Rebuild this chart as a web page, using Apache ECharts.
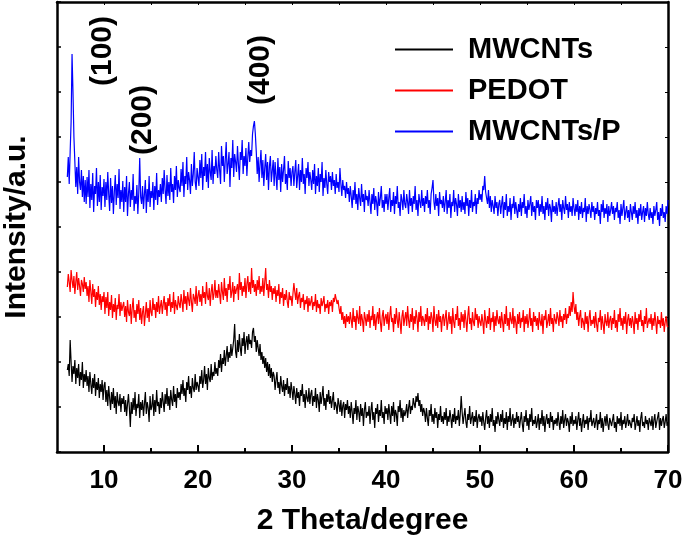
<!DOCTYPE html>
<html>
<head>
<meta charset="utf-8">
<script src="https://cdn.jsdelivr.net/npm/echarts@6/dist/echarts.min.js"></script>
<style>
html,body{margin:0;padding:0;background:#fff;}
#c{width:685px;height:544px;}
</style>
</head>
<body>
<div id="c"></div>
<script>
// 2-theta grid: 6.1 .. 70.0 degrees, 0.1 degree step (640 points per pattern)
var thetaStart = 6.1, thetaStep = 0.1;
var xTicks = [10, 20, 30, 40, 50, 60, 70];
var xMinorTicks = [15, 25, 35, 45, 55, 65];
var seriesNames = ['MWCNTs', 'PEDOT', 'MWCNTs/P'];
var annotations = [
  {text: '(100)', x: 9.9, y: 401},
  {text: '(200)', x: 14.15, y: 332},
  {text: '(400)', x: 26.7, y: 382}
];

var blue = [
275,295,268,300,330,398,360,315,290,265,285,258,295,270,262,282,255,276,250,272,
248,275,255,282,244,268,252,279,240,266,258,284,246,270,250,277,242,265,256,273,
245,270,252,280,258,241,274,249,266,238,260,277,247,268,254,283,243,262,250,271,
240,265,250,276,236,258,270,245,262,252,278,241,256,248,267,238,259,294,255,248,
266,243,258,272,239,263,250,276,245,261,254,270,242,266,252,279,247,262,255,268,
250,274,258,282,262,248,277,256,270,252,284,260,268,249,276,262,286,255,272,264,
260,283,266,290,255,276,268,295,262,280,272,258,288,266,278,300,270,262,284,275,
266,292,274,298,262,285,276,300,270,288,264,294,280,272,302,268,286,278,296,282,
274,300,282,268,306,286,296,270,292,310,278,288,300,265,294,284,312,275,298,290,
280,306,288,272,300,292,312,278,296,286,304,276,295,310,290,302,296,318,326,331,
318,300,278,295,270,288,302,274,292,266,284,298,272,290,262,286,296,270,281,292,
266,290,276,262,294,272,285,260,288,270,282,296,268,278,262,291,274,284,266,280,
286,266,280,292,264,276,288,262,282,270,294,268,278,258,284,274,290,266,280,272,
262,282,268,288,258,276,266,284,260,278,270,290,256,274,264,282,268,258,280,270,
276,262,280,266,272,258,278,264,270,260,284,268,256,272,262,266,254,270,258,264,
250,266,256,244,262,252,270,248,258,242,264,254,246,268,250,258,240,262,252,256,
246,262,250,238,258,248,264,242,256,250,236,260,246,254,266,244,252,240,258,248,
258,242,254,264,240,252,246,260,238,256,248,266,244,250,236,258,252,242,262,248,
244,258,250,238,262,246,254,240,256,248,266,242,252,236,258,250,244,262,246,254,
240,256,248,262,244,252,238,258,264,272,250,242,258,246,254,236,260,248,252,244,
256,240,250,262,238,252,244,258,234,250,246,262,240,254,248,236,258,244,252,240,
256,242,250,238,260,246,254,236,252,244,262,240,250,246,258,238,254,248,262,252,
258,250,266,262,276,260,254,248,262,244,256,240,252,246,238,256,244,250,236,248,
252,238,248,256,234,250,242,258,236,246,240,254,232,248,244,256,238,250,242,234,
248,240,254,236,250,244,258,238,246,234,252,242,248,256,236,250,240,246,232,252,
244,252,236,248,240,256,238,246,232,250,242,254,236,248,244,230,252,240,246,238,
250,236,246,254,240,248,232,252,244,238,256,242,248,234,250,240,246,236,254,244,
236,248,240,252,232,246,238,250,234,244,240,254,230,246,238,248,242,234,250,240,
246,232,244,238,250,236,242,228,248,240,252,234,244,238,248,230,246,236,242,250,
238,246,232,244,240,250,234,242,228,248,236,244,252,232,240,246,234,242,230,248,
240,232,246,238,250,234,242,228,244,236,248,232,240,246,230,244,236,250,238,232,
244,234,240,228,246,236,242,250,232,240,226,244,236,248,234,240,230,246,238,252
];

var red = [
165,178,170,160,182,172,164,176,158,170,180,162,174,166,156,172,168,160,175,163,
170,156,166,150,172,160,148,168,155,163,145,160,152,166,147,158,142,156,150,160,
138,155,144,160,136,150,142,157,134,148,140,154,132,147,143,158,136,150,141,146,
150,135,146,130,152,140,136,148,128,144,154,134,142,130,148,138,152,132,144,128,
140,146,126,138,150,134,144,130,152,140,136,154,142,148,134,150,140,156,138,146,
152,138,148,156,142,150,136,154,146,158,140,150,144,160,138,152,146,142,156,148,
144,158,150,140,162,148,156,142,160,152,146,164,150,140,158,154,148,166,146,156,
162,150,158,146,166,154,160,148,170,156,152,164,146,160,168,152,158,172,154,162,
154,168,158,148,170,160,152,174,156,164,150,168,162,176,154,160,170,150,166,158,
158,168,152,179,162,170,156,166,160,174,154,168,176,160,170,158,184,164,172,160,
168,156,172,162,176,158,166,160,174,156,170,184,162,168,154,172,160,166,152,164,
158,166,150,162,156,168,148,160,154,164,146,158,152,162,150,144,160,152,156,146,
158,169,160,152,164,148,156,160,144,154,150,158,142,152,148,156,140,154,146,150,
156,142,150,146,158,140,152,144,148,138,154,146,150,156,140,148,144,152,138,150,
146,152,140,154,150,158,156,148,152,144,138,146,132,140,128,136,124,138,130,136,
128,140,132,124,144,130,136,122,142,134,128,146,126,138,132,120,140,134,126,138,
130,142,124,136,132,146,126,138,122,134,140,128,144,130,120,136,142,126,134,138,
128,140,122,136,146,130,134,120,138,128,144,132,124,140,130,118,136,142,126,134,
140,126,146,132,124,138,130,144,122,136,128,142,134,120,140,130,146,126,136,132,
126,138,130,144,122,136,128,140,134,120,146,132,126,138,124,142,130,136,120,134,
138,126,134,142,122,130,140,128,136,118,144,130,124,138,132,146,126,134,122,140,
130,138,124,142,132,120,136,146,128,134,122,140,130,126,144,132,138,124,136,130,
126,138,130,118,142,132,124,136,128,144,122,134,130,140,120,136,126,142,132,128,
136,124,140,130,120,138,128,146,126,134,122,140,132,128,144,124,136,130,118,138,
128,140,124,134,130,142,120,136,128,138,124,132,144,126,134,120,140,130,136,126,
134,122,140,130,126,138,118,136,132,142,124,130,138,126,144,128,134,120,138,132,
128,140,134,126,142,130,136,124,138,132,144,128,138,134,146,136,150,140,160,146,
138,148,132,140,126,136,142,124,134,130,122,140,128,136,120,134,142,126,132,128,
136,124,140,128,120,134,130,142,122,136,128,118,138,130,126,140,124,132,136,122,
134,128,142,124,132,120,138,130,144,126,134,122,136,128,140,118,132,138,126,134,
124,136,130,118,140,128,134,122,138,130,142,126,132,120,136,128,144,124,130,134,
128,138,122,134,126,140,130,118,136,128,132,124,140,126,134,120,130,136,126,125
];

var black = [
82,88,76,112,90,70,86,78,92,68,84,74,88,66,80,72,90,64,78,70,
82,66,76,60,80,68,58,74,64,78,56,70,62,74,54,68,60,72,52,66,
70,50,62,46,66,54,42,60,48,64,44,56,38,60,50,46,58,40,54,48,
56,40,52,36,48,58,44,25,50,38,54,42,60,36,48,44,58,34,50,42,
52,36,48,60,38,50,44,30,56,42,46,58,36,52,40,62,46,50,38,54,
44,60,50,40,58,48,64,46,56,42,62,52,46,66,50,58,44,64,54,60,
52,68,58,72,56,64,50,70,62,76,58,66,54,74,64,60,78,62,70,66,
60,76,68,82,64,72,86,68,78,62,84,74,70,88,72,80,76,90,78,84,
76,92,84,98,80,94,88,102,86,96,106,90,100,94,108,96,104,112,128,100,
94,112,100,118,104,96,114,106,120,98,110,116,102,118,108,112,104,120,124,110,
116,100,112,104,96,108,92,100,88,96,84,94,80,90,76,88,74,84,70,80,
76,62,72,80,64,70,58,76,66,60,72,56,68,62,74,58,66,54,70,62,
52,66,58,48,64,54,60,46,62,56,68,50,58,44,62,54,50,64,48,58,
62,46,56,50,64,44,58,52,40,60,48,56,66,46,54,42,58,50,62,48,
56,44,52,60,42,50,46,38,54,48,40,52,36,46,50,34,48,42,52,38,
46,34,50,40,28,44,38,52,32,46,40,30,48,36,44,26,42,50,34,40,
36,46,28,42,50,32,40,24,44,38,48,30,42,36,52,34,40,28,46,38,
44,32,48,38,28,46,36,50,30,42,38,26,46,40,52,34,44,30,42,36,
40,48,34,44,52,38,46,42,54,48,44,56,50,59,46,52,40,48,36,44,
40,30,44,34,26,42,36,48,30,38,28,44,34,40,24,38,32,46,30,36,
28,40,32,44,26,36,30,42,34,24,38,30,44,28,36,32,42,26,38,56,
40,28,36,44,30,24,38,32,46,28,34,40,26,36,30,42,24,34,38,30,
36,26,40,30,22,34,42,28,36,24,38,30,44,26,32,20,36,28,40,32,
26,38,30,42,24,34,28,40,22,36,30,44,26,32,38,24,34,28,40,30,
36,24,32,40,28,20,36,30,42,26,34,22,38,30,44,26,32,28,36,24,
30,38,22,34,28,42,26,36,20,32,38,28,34,24,40,30,36,22,32,28,
34,26,40,30,22,36,28,42,24,32,38,26,34,30,20,36,28,40,26,32,
28,36,22,32,40,26,34,20,30,38,24,32,28,36,22,34,30,42,26,30,
34,24,30,38,22,32,28,40,24,34,20,30,36,26,38,28,22,34,30,26,
32,38,24,30,20,36,28,34,26,40,22,32,28,36,24,30,38,26,32,28,
24,34,30,38,22,28,36,26,32,20,34,40,26,30,24,36,28,32,22,34,
30,26,36,22,32,38,24,30,28,40,22,34,26,32,36,24,30,38,26,30
];

function pairs(vals) {
  return vals.map(function (v, i) {
    return [Math.round((thetaStart + i * thetaStep) * 100) / 100, v];
  });
}

var FONT = '"Liberation Sans", Arial, sans-serif';
var chart = echarts.init(document.getElementById('c'), null, {renderer: 'canvas'});

var option = {
  animation: false,
  backgroundColor: '#fff',
  grid: {left: 57, right: 17, top: 2, bottom: 92, containLabel: false, outerBoundsMode: 'none'},
  legend: {
    orient: 'vertical',
    left: 395,
    top: 35,
    padding: 0,
    itemWidth: 58,
    itemHeight: 2,
    itemGap: 12,
    icon: 'rect',
    data: seriesNames,
    textStyle: {fontFamily: FONT, fontWeight: 'bold', fontSize: 29, color: '#000', padding: [0, 0, 0, 10]}
  },
  xAxis: [
    {
      type: 'value', min: 5, max: 70, position: 'bottom',
      name: '2 Theta/degree', nameLocation: 'middle', nameGap: 54,
      nameTextStyle: {fontFamily: FONT, fontWeight: 'bold', fontSize: 30, color: '#000'},
      axisLine: {show: true, onZero: false, lineStyle: {color: '#000', width: 2.5}},
      axisTick: {show: true, inside: true, length: 7, customValues: xTicks, lineStyle: {color: '#000', width: 2}},
      axisLabel: {show: true, customValues: xTicks, margin: 16, fontFamily: FONT, fontWeight: 'bold', fontSize: 26, color: '#000'},
      splitLine: {show: false}
    },
    {
      type: 'value', min: 5, max: 70, position: 'bottom',
      axisLine: {show: false, onZero: false},
      axisTick: {show: true, inside: true, length: 4, customValues: xMinorTicks, lineStyle: {color: '#000', width: 2}},
      axisLabel: {show: false},
      splitLine: {show: false}
    },
    {
      type: 'value', min: 5, max: 70, position: 'top',
      axisLine: {show: true, onZero: false, lineStyle: {color: '#000', width: 2.5}},
      axisTick: {show: true, inside: true, length: 3, customValues: xTicks.concat(xMinorTicks), lineStyle: {color: '#000', width: 1}},
      axisLabel: {show: false},
      splitLine: {show: false}
    }
  ],
  yAxis: [
    {
      type: 'value', min: 0, max: 450, interval: 45, position: 'left',
      name: 'Intensity/a.u.', nameLocation: 'middle', nameGap: 25,
      nameTextStyle: {fontFamily: FONT, fontWeight: 'bold', fontSize: 30, color: '#000'},
      axisLine: {show: true, onZero: false, lineStyle: {color: '#000', width: 2.5}},
      axisTick: {show: true, inside: true, length: 4, lineStyle: {color: '#000', width: 1.5}},
      axisLabel: {show: false},
      splitLine: {show: false}
    },
    {
      type: 'value', min: 0, max: 450, interval: 45, position: 'right',
      axisLine: {show: true, onZero: false, lineStyle: {color: '#000', width: 2.5}},
      axisTick: {show: true, inside: true, length: 3, lineStyle: {color: '#000', width: 1}},
      axisLabel: {show: false},
      splitLine: {show: false}
    }
  ],
  series: [
    {name: seriesNames[0], type: 'line', data: pairs(black), showSymbol: false, symbol: 'none',
     lineStyle: {color: '#000000', width: 1.2}, itemStyle: {color: '#000000'}},
    {name: seriesNames[1], type: 'line', data: pairs(red), showSymbol: false, symbol: 'none',
     lineStyle: {color: '#ff0000', width: 1.2}, itemStyle: {color: '#ff0000'}},
    {name: seriesNames[2], type: 'line', data: pairs(blue), showSymbol: false, symbol: 'none',
     lineStyle: {color: '#0000ff', width: 1.2}, itemStyle: {color: '#0000ff'}}
  ]
};
chart.setOption(option);

var g = annotations.map(function (a) {
  var p = chart.convertToPixel({xAxisIndex: 0, yAxisIndex: 0}, [a.x, a.y]);
  return {
    type: 'text', x: p[0], y: p[1], rotation: Math.PI / 2,
    style: {text: a.text, fontFamily: FONT, fontWeight: 'bold', fontSize: 30, fill: '#000',
            align: 'center', verticalAlign: 'middle'}
  };
});
chart.setOption({graphic: g});
</script>
</body>
</html>
